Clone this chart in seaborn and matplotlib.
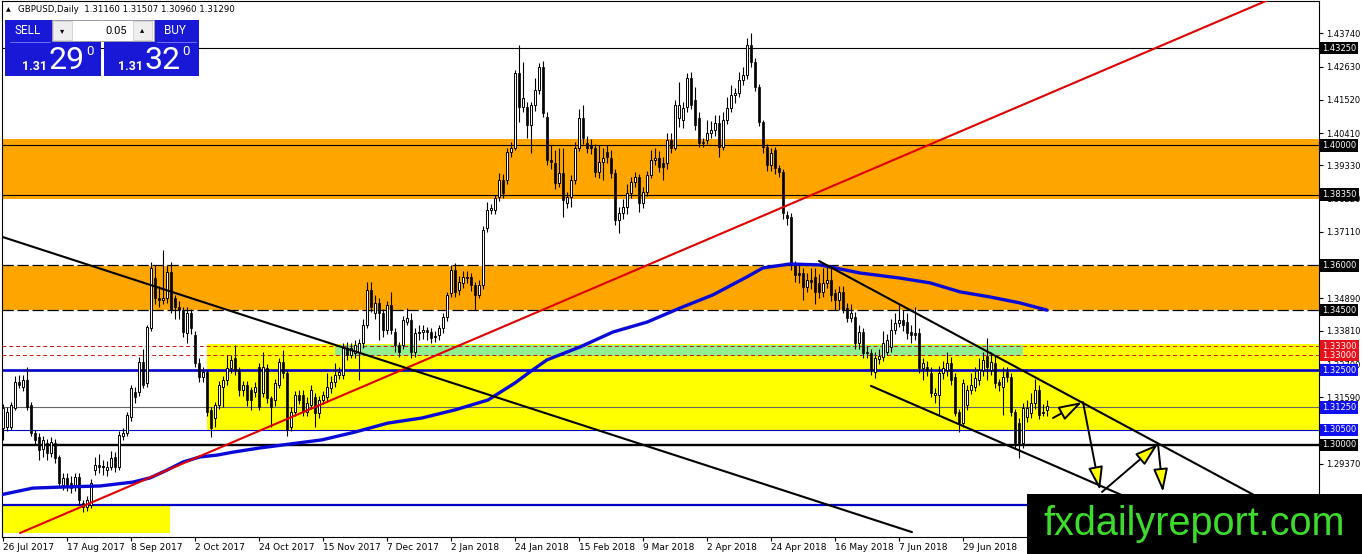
import numpy as np
import matplotlib
matplotlib.use("Agg")
import matplotlib.pyplot as plt
import seaborn as sns
from matplotlib.patches import Rectangle

sns.set_style("white")
plt.rcParams['font.family'] = ['DejaVu Sans']

# ---------------- data (GBPUSD daily) ----------------
opens = [1.3057,1.3060,1.3060,1.3123,1.3210,1.3194,1.3217,1.3133,1.3040,1.3027,
         1.2985,1.3005,1.2973,1.3005,1.2960,1.2866,1.2890,1.2872,1.2860,1.2893,
         1.2806,1.2793,1.2800,1.2916,1.2933,1.2926,1.2916,1.2926,1.2960,1.2926,
         1.3030,1.3040,1.3093,1.3177,1.3177,1.3277,1.3207,1.3390,1.3557,1.3490,
         1.3484,1.3490,1.3577,1.3490,1.3460,1.3450,1.3373,1.3440,1.3367,1.3274,
         1.3227,1.3243,1.3117,1.3090,1.3133,1.3194,1.3217,1.3257,1.3290,1.3250,
         1.3183,1.3200,1.3183,1.3177,1.3260,1.3173,1.3257,1.3157,1.3150,1.3200,
         1.3277,1.3240,1.3060,1.3110,1.3167,1.3167,1.3110,1.3133,1.3160,1.3107,
         1.3150,1.3160,1.3190,1.3210,1.3233,1.3233,1.3324,1.3300,1.3307,1.3310,
         1.3340,1.3400,1.3517,1.3440,1.3475,1.3440,1.3384,1.3467,1.3377,1.3334,
         1.3334,1.3410,1.3417,1.3310,1.3374,1.3377,1.3384,1.3377,1.3360,1.3367,
         1.3390,1.3427,1.3507,1.3584,1.3517,1.3540,1.3557,1.3560,1.3534,1.3500,
         1.3534,1.3724,1.3784,1.3784,1.3828,1.3884,1.3884,1.3978,1.3991,1.4242,
         1.4128,1.4128,1.4068,1.4135,1.4185,1.4261,1.4095,1.3951,1.3941,1.3874,
         1.3908,1.3808,1.3828,1.3884,1.3991,1.4091,1.4008,1.4001,1.3991,1.3911,
         1.3945,1.3978,1.3958,1.3908,1.3751,1.3774,1.3795,1.3841,1.3878,1.3894,
         1.3808,1.3844,1.3901,1.3951,1.3958,1.3941,1.3941,1.4018,1.3991,1.4091,
         1.4085,1.4128,1.4225,1.4151,1.4091,1.4011,1.4018,1.4041,1.4051,1.4075,
         1.3995,1.4085,1.4125,1.4168,1.4175,1.4218,1.4235,1.4335,1.4278,1.4195,
         1.4078,1.3995,1.3935,1.3985,1.3925,1.3911,1.3768,1.3761,1.3607,1.3574,
         1.3574,1.3527,1.3551,1.3561,1.3541,1.3511,1.3541,1.3551,1.3507,1.3484,
         1.3511,1.3457,1.3424,1.3427,1.3340,1.3377,1.3310,1.3307,1.3245,1.3287,
         1.3294,1.3310,1.3327,1.3384,1.3407,1.3417,1.3410,1.3377,1.3374,1.3374,
         1.3257,1.3260,1.3240,1.3167,1.3167,1.3240,1.3250,1.3273,1.3227,1.3110,
         1.3073,1.3133,1.3183,1.3194,1.3217,1.3250,1.3297,1.3250,1.3273,1.3210,
         1.3194,1.3243,1.3227,1.3110,1.3073,1.3006,1.3093,1.3107,1.3140,1.3183,
         1.3107,1.3116]
highs = [1.3135,1.3125,1.3145,1.3230,1.3235,1.3235,1.3260,1.3145,1.3050,1.3040,
         1.3030,1.3020,1.3025,1.3020,1.2965,1.2905,1.2905,1.2895,1.2905,1.2905,
         1.2815,1.2830,1.2885,1.2960,1.2970,1.2950,1.2945,1.2980,1.2975,1.3045,
         1.3055,1.3110,1.3200,1.3195,1.3294,1.3320,1.3400,1.3611,1.3600,1.3530,
         1.3651,1.3600,1.3610,1.3500,1.3480,1.3460,1.3460,1.3455,1.3380,1.3290,
         1.3260,1.3250,1.3125,1.3145,1.3215,1.3230,1.3300,1.3300,1.3333,1.3260,
         1.3215,1.3215,1.3195,1.3210,1.3275,1.3310,1.3270,1.3165,1.3220,1.3290,
         1.3317,1.3250,1.3125,1.3180,1.3185,1.3185,1.3160,1.3200,1.3175,1.3165,
         1.3180,1.3240,1.3230,1.3275,1.3260,1.3340,1.3345,1.3340,1.3350,1.3355,
         1.3420,1.3544,1.3545,1.3500,1.3490,1.3455,1.3480,1.3511,1.3390,1.3345,
         1.3430,1.3457,1.3440,1.3390,1.3400,1.3400,1.3395,1.3390,1.3380,1.3400,
         1.3440,1.3510,1.3600,1.3607,1.3565,1.3580,1.3580,1.3575,1.3545,1.3550,
         1.3730,1.3811,1.3805,1.3835,1.3908,1.3905,1.3990,1.4010,1.4252,1.4335,
         1.4278,1.4145,1.4145,1.4225,1.4275,1.4280,1.4110,1.4000,1.3985,1.3990,
         1.3990,1.3845,1.3900,1.4010,1.4120,1.4135,1.4030,1.4020,1.4005,1.4000,
         1.3990,1.4000,1.3985,1.3920,1.3795,1.3820,1.3870,1.3895,1.3910,1.3905,
         1.3860,1.3915,1.3985,1.3990,1.3980,1.3960,1.4040,1.4040,1.4150,1.4212,
         1.4145,1.4242,1.4245,1.4195,1.4110,1.4025,1.4085,1.4080,1.4100,1.4100,
         1.4110,1.4160,1.4200,1.4190,1.4245,1.4260,1.4360,1.4376,1.4290,1.4205,
         1.4085,1.4005,1.3990,1.3995,1.3935,1.3920,1.3780,1.3775,1.3615,1.3600,
         1.3590,1.3575,1.3590,1.3590,1.3570,1.3590,1.3600,1.3600,1.3520,1.3530,
         1.3530,1.3475,1.3470,1.3445,1.3400,1.3390,1.3330,1.3320,1.3310,1.3320,
         1.3380,1.3370,1.3420,1.3440,1.3467,1.3450,1.3440,1.3400,1.3460,1.3390,
         1.3290,1.3280,1.3260,1.3190,1.3265,1.3280,1.3310,1.3295,1.3240,1.3120,
         1.3220,1.3200,1.3240,1.3260,1.3290,1.3310,1.3357,1.3310,1.3300,1.3220,
         1.3260,1.3260,1.3240,1.3120,1.3090,1.3140,1.3150,1.3175,1.3220,1.3200,
         1.3135,1.3151]
lows = [1.3017,1.3045,1.3050,1.3115,1.3190,1.3180,1.3115,1.3030,1.3000,1.2950,
        1.2960,1.2950,1.2960,1.2940,1.2860,1.2850,1.2845,1.2840,1.2845,1.2800,
        1.2775,1.2780,1.2790,1.2900,1.2905,1.2900,1.2895,1.2915,1.2910,1.2915,
        1.3015,1.3030,1.3080,1.3140,1.3165,1.3190,1.3195,1.3380,1.3470,1.3460,
        1.3470,1.3475,1.3440,1.3420,1.3420,1.3360,1.3340,1.3370,1.3260,1.3210,
        1.3210,1.3095,1.3026,1.3060,1.3120,1.3127,1.3200,1.3240,1.3235,1.3165,
        1.3165,1.3130,1.3117,1.3160,1.3115,1.3160,1.3140,1.3060,1.3130,1.3190,
        1.3225,1.3030,1.3045,1.3095,1.3135,1.3095,1.3095,1.3120,1.3060,1.3090,
        1.3135,1.3145,1.3175,1.3195,1.3220,1.3220,1.3285,1.3290,1.3290,1.3217,
        1.3325,1.3390,1.3445,1.3420,1.3350,1.3360,1.3370,1.3370,1.3310,1.3295,
        1.3320,1.3400,1.3290,1.3295,1.3350,1.3355,1.3350,1.3340,1.3345,1.3350,
        1.3375,1.3415,1.3495,1.3495,1.3500,1.3525,1.3540,1.3515,1.3450,1.3490,
        1.3520,1.3710,1.3770,1.3770,1.3815,1.3824,1.3870,1.3960,1.3985,1.4078,
        1.4110,1.4025,1.3975,1.4115,1.4170,1.4095,1.3935,1.3920,1.3855,1.3860,
        1.3761,1.3790,1.3795,1.3870,1.3980,1.4005,1.3975,1.3970,1.3895,1.3890,
        1.3884,1.3940,1.3890,1.3735,1.3707,1.3755,1.3770,1.3825,1.3860,1.3776,
        1.3790,1.3830,1.3890,1.3935,1.3910,1.3884,1.3920,1.3975,1.3985,1.4060,
        1.4058,1.4110,1.4120,1.4050,1.3995,1.3995,1.4005,1.4025,1.4030,1.3961,
        1.3985,1.4070,1.4110,1.4140,1.4160,1.4200,1.4220,1.4260,1.4180,1.4065,
        1.3975,1.3915,1.3915,1.3905,1.3895,1.3755,1.3735,1.3585,1.3545,1.3540,
        1.3484,1.3510,1.3520,1.3470,1.3490,1.3495,1.3525,1.3480,1.3450,1.3450,
        1.3440,1.3410,1.3410,1.3320,1.3320,1.3290,1.3290,1.3234,1.3225,1.3270,
        1.3280,1.3300,1.3310,1.3370,1.3395,1.3380,1.3355,1.3340,1.3350,1.3240,
        1.3217,1.3230,1.3160,1.3140,1.3100,1.3220,1.3230,1.3200,1.3095,1.3043,
        1.3060,1.3115,1.3170,1.3180,1.3200,1.3230,1.3217,1.3235,1.3190,1.3180,
        1.3100,1.3210,1.3095,1.2985,1.2956,1.2990,1.3075,1.3090,1.3120,1.3085,
        1.3095,1.3096]
closes = [1.3123,1.3110,1.3133,1.3210,1.3200,1.3217,1.3127,1.3040,1.3017,1.2983,
          1.3017,1.2973,1.3010,1.2955,1.2873,1.2890,1.2860,1.2856,1.2893,1.2816,
          1.2793,1.2816,1.2873,1.2933,1.2926,1.2930,1.2926,1.2956,1.2926,1.3033,
          1.3040,1.3100,1.3190,1.3160,1.3277,1.3200,1.3394,1.3591,1.3490,1.3484,
          1.3490,1.3577,1.3450,1.3460,1.3450,1.3377,1.3440,1.3390,1.3274,1.3227,
          1.3243,1.3110,1.3057,1.3133,1.3200,1.3217,1.3257,1.3283,1.3250,1.3183,
          1.3200,1.3150,1.3150,1.3194,1.3127,1.3260,1.3157,1.3127,1.3207,1.3277,
          1.3240,1.3050,1.3110,1.3167,1.3150,1.3110,1.3140,1.3183,1.3107,1.3150,
          1.3167,1.3194,1.3210,1.3233,1.3243,1.3324,1.3300,1.3324,1.3334,1.3340,
          1.3400,1.3517,1.3460,1.3475,1.3440,1.3384,1.3467,1.3384,1.3334,1.3310,
          1.3417,1.3424,1.3310,1.3374,1.3377,1.3384,1.3377,1.3357,1.3365,1.3390,
          1.3427,1.3500,1.3584,1.3511,1.3544,1.3560,1.3560,1.3534,1.3500,1.3534,
          1.3717,1.3784,1.3791,1.3824,1.3884,1.3841,1.3978,1.3991,1.4242,1.4128,
          1.4158,1.4068,1.4135,1.4185,1.4261,1.4108,1.3951,1.3945,1.3874,1.3908,
          1.3818,1.3828,1.3884,1.3991,1.4091,1.4025,1.3991,1.3991,1.3911,1.3945,
          1.3958,1.3961,1.3908,1.3751,1.3774,1.3795,1.3841,1.3878,1.3894,1.3808,
          1.3844,1.3901,1.3951,1.3958,1.3928,1.3928,1.4018,1.3991,1.4135,1.4135,
          1.4125,1.4225,1.4135,1.4068,1.4008,1.4008,1.4041,1.4051,1.4075,1.3995,
          1.4085,1.4125,1.4168,1.4175,1.4218,1.4235,1.4335,1.4278,1.4195,1.4078,
          1.3995,1.3935,1.3975,1.3925,1.3911,1.3774,1.3758,1.3601,1.3567,1.3567,
          1.3527,1.3551,1.3544,1.3511,1.3511,1.3541,1.3551,1.3501,1.3484,1.3511,
          1.3450,1.3424,1.3440,1.3340,1.3377,1.3307,1.3307,1.3250,1.3290,1.3297,
          1.3340,1.3350,1.3384,1.3407,1.3417,1.3400,1.3374,1.3367,1.3367,1.3257,
          1.3273,1.3250,1.3173,1.3173,1.3240,1.3257,1.3273,1.3217,1.3107,1.3073,
          1.3207,1.3183,1.3200,1.3223,1.3250,1.3284,1.3260,1.3277,1.3207,1.3200,
          1.3227,1.3227,1.3110,1.3006,1.3006,1.3123,1.3123,1.3140,1.3183,1.3100,
          1.3110,1.3129]

# moving average read at sample bars
ma_bars = [-0.75, 7.5, 16, 24.25, 32.5, 36.75, 41, 45, 49.25, 53.5,
           57.5, 64.25, 79.75, 88, 96.25, 104.75, 113, 121.25, 128, 131.75,
           136, 144.25, 152.5, 161, 169.25, 177.5, 186, 190, 196.75, 204.25,
           214.25, 224.25, 231.75, 239.25, 246.75, 254.25, 261]
ma_vals = [1.2833, 1.2856, 1.2860, 1.2863, 1.2876, 1.2890, 1.2916, 1.2943, 1.2960, 1.2966,
           1.2976, 1.2990, 1.3017, 1.3043, 1.3073, 1.3090, 1.3117, 1.3150, 1.3207, 1.3244,
           1.3284, 1.3327, 1.3377, 1.3410, 1.3457, 1.3501, 1.3561, 1.3591, 1.3604, 1.3601,
           1.3574, 1.3557, 1.3541, 1.3511, 1.3494, 1.3474, 1.3450]

date_bars = [0, 16, 32, 48, 64, 80, 96, 112, 128, 144, 160, 176, 192, 208, 224, 240]
date_labels = ['26 Jul 2017', '17 Aug 2017', '8 Sep 2017', '2 Oct 2017', '24 Oct 2017',
               '15 Nov 2017', '7 Dec 2017', '2 Jan 2018', '24 Jan 2018', '15 Feb 2018',
               '9 Mar 2018', '2 Apr 2018', '24 Apr 2018', '16 May 2018', '7 Jun 2018',
               '29 Jun 2018']
price_ticks = [1.43740, 1.42630, 1.41520, 1.40410, 1.39330, 1.38220, 1.37110, 1.36000,
               1.34890, 1.33810, 1.32700, 1.31590, 1.30480, 1.29370, 1.28260]
# tick labels that are fully covered in the reference are left blank
hidden_ticks = [1.36000, 1.30480, 1.28260]

# drawn objects (anchors in bar index / price)
zone_orange = [(1.3821, 1.4021), (1.3450, 1.3600)]
zone_yellow = (51, 1.3050, 1.3337)
zone_green = (83, 255, 1.3297, 1.3334)
zone_yellow_low = (-0.25, 41.75, 1.2706, 1.2800)
red_line = ([4.25, 316.25], [1.2706, 1.4485])
black_line = ([-0.75, 227.25], [1.3697, 1.2709])
channel_up = ([204, 329], [1.3614, 1.2716])
channel_dn = ([217, 329], [1.3197, 1.2546])
arrows = [((262.5, 1.3090), (269.75, 1.3143)),
          ((270.0, 1.3143), (274.25, 1.2849)),
          ((274.75, 1.2843), (288.75, 1.3003)),
          ((288.75, 1.3003), (290.0, 1.2843))]
level_labels = [(1.4325, 'black'), (1.4000, 'black'), (1.3835, 'black'), (1.3600, 'black'),
                (1.3450, 'black'), (1.3330, '#e8101a'), (1.3300, '#e8101a'),
                (1.3250, '#1010f0'), (1.3125, '#1010f0'), (1.3050, '#1010f0'),
                (1.3000, 'black')]

# ---------------- figure ----------------
W, H = 1362, 554
fig = plt.figure(figsize=(W / 100, H / 100), dpi=100)
fig.patch.set_facecolor('white')
ax = fig.add_axes([2 / W, 17 / H, 1317 / W, 536 / H])
ax.set_facecolor('white')
XMIN, XMAX = -0.25, 329.0
YMIN, YMAX = 1.26927, 1.44819
ax.set_xlim(XMIN, XMAX)
ax.set_ylim(YMIN, YMAX)

# zones
for lo, hi in zone_orange:
    ax.add_patch(Rectangle((XMIN, lo), XMAX - XMIN, hi - lo, fc='#FFA500', ec='none', zorder=1))
x0, lo, hi = zone_yellow
ax.add_patch(Rectangle((x0, lo), XMAX - x0, hi - lo, fc='#FFFF00', ec='none', zorder=1))
x0, x1, lo, hi = zone_green
ax.add_patch(Rectangle((x0, lo), x1 - x0, hi - lo, fc='#90EE90', ec='none', zorder=1.2))
x0, x1, lo, hi = zone_yellow_low
ax.add_patch(Rectangle((x0, lo), x1 - x0, hi - lo, fc='#FFFF00', ec='none', zorder=1))

# horizontal levels
ax.axhline(1.4325, color='black', lw=0.8, zorder=2)
ax.axhline(1.4000, color='black', lw=0.8, zorder=2)
ax.axhline(1.3835, color='black', lw=0.8, zorder=2)
for lv in (1.3600, 1.3450):
    ax.axhline(lv, color='white', lw=0.9, zorder=2)
    ax.axhline(lv, color='black', lw=0.9, dashes=(9, 3), zorder=2.1)
for lv in (1.3330, 1.3300):
    ax.axhline(lv, color='#d01010', lw=0.7, dashes=(4, 3), zorder=2)
ax.axhline(1.3250, color='#0000c8', lw=1.9, zorder=2)
ax.axhline(1.3125, color='#666666', lw=0.8, zorder=2)
ax.axhline(1.3050, color='#0000c8', lw=0.8, zorder=2)
ax.axhline(1.3000, color='black', lw=1.7, zorder=2)
ax.axhline(1.2800, color='#0000c8', lw=1.6, zorder=2)

# candles
o = np.array(opens); h = np.array(highs); l = np.array(lows); c = np.array(closes)
idx = np.arange(len(o))
bull = c >= o
ax.vlines(idx, l, h, color='black', lw=0.8, zorder=3)
bot = np.minimum(o, c)
hgt = np.maximum(np.abs(c - o), 0.00012)
ax.bar(idx[bull], hgt[bull], bottom=bot[bull], width=0.6, color='white',
       edgecolor='black', linewidth=0.7, zorder=4)
ax.bar(idx[~bull], hgt[~bull], bottom=bot[~bull], width=0.7, color='black',
       edgecolor='black', linewidth=0.5, zorder=4)

# moving average
sns.lineplot(x=ma_bars, y=ma_vals, ax=ax, color='#0a0ad8', lw=2.4, zorder=5,
             sort=False, legend=False)

# trend lines
ax.plot(*red_line, color='#e00000', lw=1.5, zorder=6)
ax.plot(*black_line, color='black', lw=1.5, zorder=6)
ax.plot(*channel_up, color='black', lw=1.5, zorder=6)
ax.plot(*channel_dn, color='black', lw=1.5, zorder=6)

for start, end in arrows:
    ax.annotate('', xy=end, xytext=start, zorder=7,
                arrowprops=dict(arrowstyle='-|>,head_length=0.95,head_width=0.3',
                                mutation_scale=15, fc='#ffff00', ec='black', lw=1.4,
                                shrinkA=0, shrinkB=0))

# axes styling
for s in ax.spines.values():
    s.set_color('black')
    s.set_linewidth(0.8)
ax.yaxis.tick_right()
ax.set_yticks(price_ticks)
ax.set_yticklabels(['' if t in hidden_ticks else f'{t:.5f}' for t in price_ticks])
ax.tick_params(axis='y', right=True, left=False, direction='out', length=3, width=0.8,
               labelsize=6, pad=2, colors='black')
ax.set_xticks(date_bars)
ax.set_xticklabels(date_labels)
ax.tick_params(axis='x', bottom=True, direction='out', length=3, width=0.8,
               labelsize=6.5, pad=1.5, colors='black')
for t in ax.get_xticklabels():
    t.set_ha('left')
ax.set_xlabel('')
ax.set_ylabel('')

for price, col in level_labels:
    ax.text(1.0025, price, f'{price:.5f}', transform=ax.get_yaxis_transform(),
            fontsize=6, color='white', ha='left', va='center', clip_on=False, zorder=20,
            bbox=dict(boxstyle='square,pad=0.22', fc=col, ec='none'))

# ---------------- overlay (pixel coordinates) ----------------
ov = fig.add_axes([0, 0, 1, 1])
ov.set_xlim(0, W)
ov.set_ylim(H, 0)
ov.axis('off')
ov.patch.set_alpha(0)
ov.set_zorder(10)

ov.text(6, 10, '\u25B2', fontsize=4.5, va='center', ha='left', color='black')
ov.text(18, 10, 'GBPUSD,Daily  1.31160 1.31507 1.30960 1.31290', fontsize=6.2,
        va='center', ha='left', color='black')

blue = '#1818d6'
ov.add_patch(Rectangle((5, 20), 96, 56, fc=blue, ec='none'))
ov.add_patch(Rectangle((104, 20), 95, 56, fc=blue, ec='none'))
ov.add_patch(Rectangle((52, 20), 102, 21, fc='white', ec='#a0a0a0', lw=0.6))
ov.add_patch(Rectangle((53, 21), 19, 19, fc='#eeeeee', ec='#c8c8c8', lw=0.5))
ov.add_patch(Rectangle((133, 21), 19, 19, fc='#eeeeee', ec='#c8c8c8', lw=0.5))
ov.text(62.5, 30.5, '\u25BE', fontsize=6, ha='center', va='center', color='black')
ov.text(142.5, 30, '\u25B4', fontsize=6, ha='center', va='center', color='black')
ov.text(127, 30.5, '0.05', fontsize=8, ha='right', va='center', color='black',
        family=['Roboto', 'DejaVu Sans'])
ov.plot([10, 50], [41.5, 41.5], color='#8080ff', lw=0.6)
ov.plot([157, 196], [41.5, 41.5], color='#8080ff', lw=0.6)
ov.text(28, 30.5, 'SELL', fontsize=8.5, ha='center', va='center', color='white',
        family=['Roboto', 'DejaVu Sans'])
ov.text(175, 30.5, 'BUY', fontsize=8.5, ha='center', va='center', color='white',
        family=['Roboto', 'DejaVu Sans'])
for x_small, x_big, x_sup, big in ((22, 49, 86, '29'), (118, 144, 182, '32')):
    ov.text(x_small, 70, '1.31', fontsize=9, ha='left', va='baseline', color='white',
            fontweight='bold', family=['Roboto', 'DejaVu Sans'])
    ov.text(x_big, 69, big, fontsize=23, ha='left', va='baseline', color='white',
            family=['Roboto', 'DejaVu Sans'])
    ov.text(x_sup, 55, '0', fontsize=9.5, ha='left', va='baseline', color='white',
            family=['Roboto', 'DejaVu Sans'])

# watermark
ov.add_patch(Rectangle((1027, 494), W - 1027, H - 494, fc='black', ec='none'))
ov.text(1194, 535, 'fxdailyreport.com', fontsize=28.5, color='#3ddc2c', ha='center',
        va='baseline', family=['Liberation Sans', 'DejaVu Sans'])

fig.savefig('out.png', dpi=100, facecolor='white')
